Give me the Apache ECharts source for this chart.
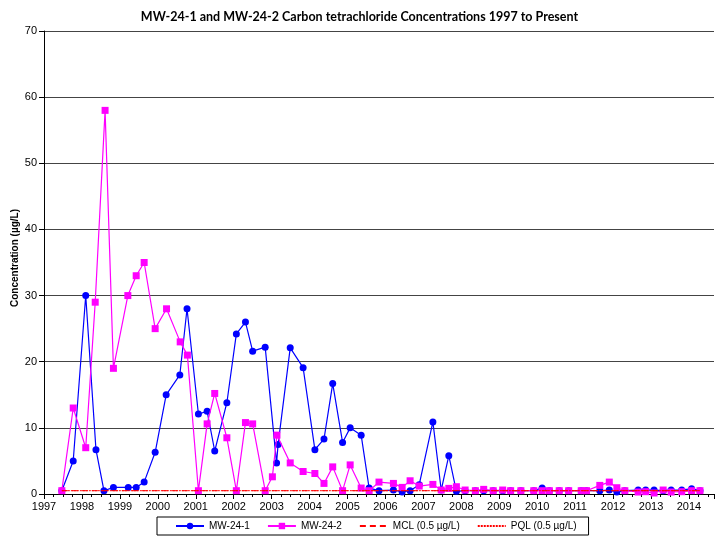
<!DOCTYPE html>
<html><head><meta charset="utf-8">
<script src="https://cdn.jsdelivr.net/npm/echarts@6/dist/echarts.min.js"></script>
<style>html,body{margin:0;padding:0;background:#fff}#c{width:719px;height:540px}</style>
</head><body><div id="c"></div>
<script>
// Sample dates (decimal years) and concentrations (µg/L)
const mw1Dates = [1997.47,1997.77,1998.10,1998.37,1998.58,1998.83,1999.22,1999.43,1999.64,1999.93,2000.22,2000.58,2000.77,2001.07,2001.30,2001.50,2001.82,2002.07,2002.31,2002.50,2002.83,2003.13,2003.17,2003.49,2003.83,2004.14,2004.38,2004.61,2004.87,2005.07,2005.36,2005.57,2005.83,2006.21,2006.44,2006.65,2006.89,2007.25,2007.47,2007.67,2007.87,2008.10,2008.37,2008.59,2008.84,2009.09,2009.30,2009.57,2009.91,2010.13,2010.32,2010.58,2010.83,2011.16,2011.30,2011.65,2011.90,2012.10,2012.31,2012.66,2012.86,2013.08,2013.32,2013.53,2013.81,2014.07,2014.29];
const mw1Values = [0.5,5.0,30.0,6.7,0.5,1.0,1.0,1.0,1.8,6.3,15.0,18.0,28.0,12.1,12.5,6.5,13.8,24.2,26.0,21.6,22.2,4.7,7.5,22.1,19.1,6.7,8.3,16.7,7.8,10.0,8.9,0.9,0.5,0.6,0.3,0.5,1.4,10.9,0.6,5.8,0.4,0.5,0.5,0.5,0.5,0.5,0.5,0.5,0.5,0.9,0.5,0.5,0.5,0.5,0.5,0.5,0.6,0.3,0.5,0.6,0.6,0.6,0.5,0.6,0.6,0.8,0.5];
const mw2Dates = [1997.47,1997.77,1998.10,1998.35,1998.61,1998.83,1999.21,1999.43,1999.64,1999.93,2000.23,2000.59,2000.78,2001.07,2001.30,2001.50,2001.82,2002.07,2002.31,2002.50,2002.83,2003.02,2003.14,2003.49,2003.83,2004.14,2004.38,2004.61,2004.87,2005.07,2005.36,2005.57,2005.83,2006.21,2006.44,2006.65,2006.89,2007.25,2007.47,2007.67,2007.87,2008.10,2008.37,2008.59,2008.84,2009.09,2009.30,2009.57,2009.91,2010.13,2010.32,2010.58,2010.83,2011.16,2011.30,2011.65,2011.90,2012.10,2012.31,2012.66,2012.86,2013.08,2013.32,2013.53,2013.81,2014.07,2014.29];
const mw2Values = [0.5,13,7,29,58,19,30,33,35,25,28,23,21,0.5,10.6,15.2,8.5,0.5,10.8,10.6,0.5,2.6,8.9,4.7,3.4,3.1,1.6,4.1,0.5,4.4,0.9,0.5,1.8,1.6,1.0,2.0,1.2,1.45,0.6,0.85,1.1,0.6,0.5,0.7,0.5,0.6,0.5,0.5,0.5,0.5,0.5,0.5,0.5,0.5,0.5,1.3,1.8,0.95,0.5,0.3,0.35,0.15,0.6,0.3,0.35,0.5,0.5];
const limitDates = [1997.47, 2014.29];
const mclValue = 0.5;
const pqlValue = 0.5;
const seriesNames = ['MW-24-1','MW-24-2','MCL (0.5 µg/L)','PQL (0.5 µg/L)'];
const yTicks = [0,10,20,30,40,50,60,70];

const zip = (d, v) => d.map((x, i) => [x, v[i]]);
const chart = echarts.init(document.getElementById('c'), null, {renderer: 'canvas'});
chart.setOption({
  animation: false,
  backgroundColor: '#fff',
  title: {
    text: 'MW-24-1 and MW-24-2 Carbon tetrachloride Concentrations 1997 to Present',
    left: 'center', top: 5,
    textStyle: {fontFamily: 'Lato', fontWeight: 'bold', fontSize: 12.5, color: '#000'}
  },
  grid: {left: 44, right: 5, top: 31, bottom: 46, containLabel: false, outerBoundsMode: 'none'},
  xAxis: {
    type: 'value', min: 1997, max: 2014.66, interval: 1,
    axisLine: {show: true, lineStyle: {color: '#000', width: 1}},
    axisTick: {show: true, inside: false, length: 5, lineStyle: {color: '#000'}},
    minorTick: {show: true, splitNumber: 4, length: 3, lineStyle: {color: '#000'}},
    splitLine: {show: false},
    axisLabel: {
      color: '#000', fontFamily: 'Liberation Sans', fontSize: 11, margin: 7,
      showMaxLabel: false,
      formatter: v => (Math.abs(v - Math.round(v)) < 1e-6 ? String(Math.round(v)) : '')
    }
  },
  yAxis: {
    type: 'value', min: 0, max: 70, interval: 10,
    name: 'Concentration (µg/L)', nameLocation: 'middle', nameGap: 24, nameRotate: 90,
    nameMoveOverlap: false,
    nameTextStyle: {fontFamily: 'Liberation Sans', fontWeight: 'bold', fontSize: 10, color: '#000', padding: [0, 0, 0, 9]},
    axisLine: {show: true, lineStyle: {color: '#000', width: 1}},
    axisTick: {show: true, inside: false, length: 5, lineStyle: {color: '#000'}},
    splitLine: {show: true, lineStyle: {color: '#444', width: 1}},
    axisLabel: {color: '#000', fontFamily: 'Liberation Sans', fontSize: 11, margin: 7,
      formatter: v => yTicks.includes(v) ? String(v) : ''}
  },
  legend: {
    left: 157, top: 517, orient: 'horizontal',
    borderColor: '#000', borderWidth: 1, borderRadius: 0,
    padding: [4, 12, 4, 18], itemGap: 17, itemWidth: 28, itemHeight: 8,
    textStyle: {fontFamily: 'Liberation Sans', fontSize: 10, color: '#000'},
    data: [
      {name: seriesNames[0]},
      {name: seriesNames[1]},
      {name: seriesNames[2], itemStyle: {opacity: 0}},
      {name: seriesNames[3], itemStyle: {opacity: 0}}
    ]
  },
  series: [
    {name: seriesNames[0], type: 'line', data: zip(mw1Dates, mw1Values),
     symbol: 'circle', symbolSize: 7, color: '#0000FF',
     lineStyle: {color: '#0000FF', width: 1.2}, itemStyle: {color: '#0000FF'}, z: 2},
    {name: seriesNames[1], type: 'line', data: zip(mw2Dates, mw2Values),
     symbol: 'rect', symbolSize: 7, color: '#FF00FF',
     lineStyle: {color: '#FF00FF', width: 1.2}, itemStyle: {color: '#FF00FF'}, z: 3},
    {name: seriesNames[2], type: 'line', data: limitDates.map(d => [d, mclValue]),
     symbol: 'none', color: '#FF0000',
     lineStyle: {color: '#FF0000', width: 1, type: [6, 4]}, z: 4},
    {name: seriesNames[3], type: 'line', data: limitDates.map(d => [d, pqlValue]),
     symbol: 'none', color: '#FF0000',
     lineStyle: {color: '#FF0000', width: 1, type: [2, 1]}, z: 5}
  ]
});
</script>
</body></html>
